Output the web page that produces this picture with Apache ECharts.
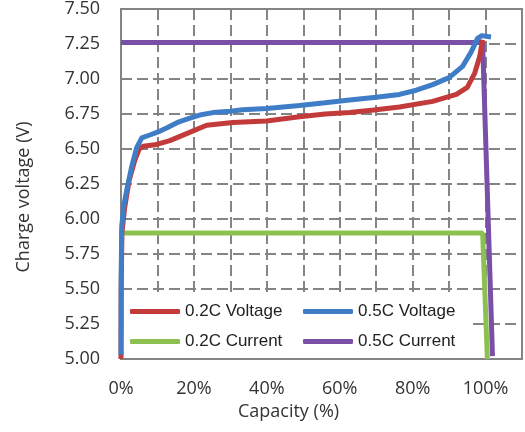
<!DOCTYPE html>
<html>
<head>
<meta charset="utf-8">
<script src="https://cdn.jsdelivr.net/npm/echarts@6/dist/echarts.min.js"></script>
<style>html,body{margin:0;padding:0;background:#fff;}#chart{width:525px;height:432px;}</style>
</head>
<body>
<div id="chart"></div>
<script>
// [capacity %, voltage V]
const volt02 = [[0,5.0],[0.05,5.5],[0.25,5.9],[1,6.08],[2.2,6.27],[3.8,6.42],[5.0,6.5],[6.1,6.52],[9.3,6.53],[13.4,6.56],[18,6.61],[23.5,6.67],[30.7,6.69],[39.9,6.70],[49,6.73],[56,6.75],[62.7,6.76],[70,6.78],[76.4,6.80],[85.5,6.84],[92,6.89],[95,6.94],[97,7.04],[98.4,7.16],[99.2,7.28]];
const volt05 = [[0,5.03],[0.05,5.6],[0.2,5.95],[0.8,6.1],[1.6,6.21],[2.9,6.37],[4.3,6.51],[5.7,6.58],[7.9,6.60],[10,6.62],[12.5,6.65],[15.5,6.69],[18.9,6.72],[22,6.745],[25.2,6.76],[30,6.77],[33.4,6.78],[40,6.79],[49,6.81],[56,6.83],[62.7,6.85],[70,6.87],[76.4,6.89],[81,6.92],[85.5,6.96],[90,7.01],[93.7,7.09],[96,7.19],[97.8,7.29],[99,7.31],[101.5,7.30]];
const curr02 = [[0,5.9],[99.2,5.9],[100.5,5.0]];
const curr05 = [[0,7.26],[99.2,7.26],[101.9,5.02]];
const seriesNames = ['0.2C Voltage', '0.5C Voltage', '0.2C Current', '0.5C Current'];
const seriesColors = ['#C23B3A', '#3F7DC6', '#8CC152', '#7A4FA8'];

const chart = echarts.init(document.getElementById('chart'), null, { renderer: 'canvas' });
const gridLine = { show: true, lineStyle: { color: '#848484', width: 2, type: [11, 5] } };
const tickFont = { fontFamily: 'Open Sans', fontSize: 18, color: '#333' };
const legendText = { fontFamily: 'Liberation Sans', fontSize: 17, color: '#222' };

function line(name, data, idx, z) {
  return {
    name: name, type: 'line', data: data, showSymbol: false, smooth: false, z: z,
    lineStyle: { color: seriesColors[idx], width: 5 }, itemStyle: { color: seriesColors[idx] },
  };
}

chart.setOption({
  animation: false,
  grid: { left: 121, right: 3, top: 9, bottom: 73, show: true, borderColor: '#848484', borderWidth: 2 },
  xAxis: {
    type: 'value', min: 0, max: 110, interval: 10,
    name: 'Capacity (%)', nameLocation: 'middle', nameGap: 44,
    nameTextStyle: { fontFamily: 'Open Sans', fontSize: 18, color: '#333', padding: [0, 66, 0, 0] },
    axisLine: { show: true, lineStyle: { color: '#848484', width: 2 } },
    axisTick: { show: false },
    axisLabel: Object.assign({ margin: 21, formatter: v => (v % 20 === 0 && v <= 100 ? v + '%' : '') }, tickFont),
    splitLine: gridLine,
  },
  yAxis: {
    type: 'value', min: 5, max: 7.5, interval: 0.25,
    name: 'Charge voltage (V)', nameLocation: 'middle', nameGap: 88,
    nameTextStyle: { fontFamily: 'Open Sans', fontSize: 18, color: '#333', padding: [0, 26, 0, 0] },
    axisLine: { show: true, lineStyle: { color: '#848484', width: 2 } },
    axisTick: { show: false },
    axisLabel: Object.assign({ margin: 21, formatter: v => v.toFixed(2) }, tickFont),
    splitLine: gridLine,
  },
  graphic: [
    { type: 'rect', shape: { x: 122, y: 297, width: 348, height: 61 }, style: { fill: '#fff' }, z: 1, silent: true },
  ],
  legend: [
    { data: [seriesNames[0], seriesNames[2]], orient: 'vertical', left: 130, top: 303, padding: 0,
      itemWidth: 50, itemHeight: 5, itemGap: 13, icon: 'roundRect', textStyle: legendText },
    { data: [seriesNames[1], seriesNames[3]], orient: 'vertical', left: 303, top: 303, padding: 0,
      itemWidth: 50, itemHeight: 5, itemGap: 13, icon: 'roundRect', textStyle: legendText },
  ],
  series: [
    line(seriesNames[3], curr05, 3, 3),
    line(seriesNames[2], curr02, 2, 3),
    line(seriesNames[0], volt02, 0, 4),
    line(seriesNames[1], volt05, 1, 5),
  ],
});
</script>
</body>
</html>
